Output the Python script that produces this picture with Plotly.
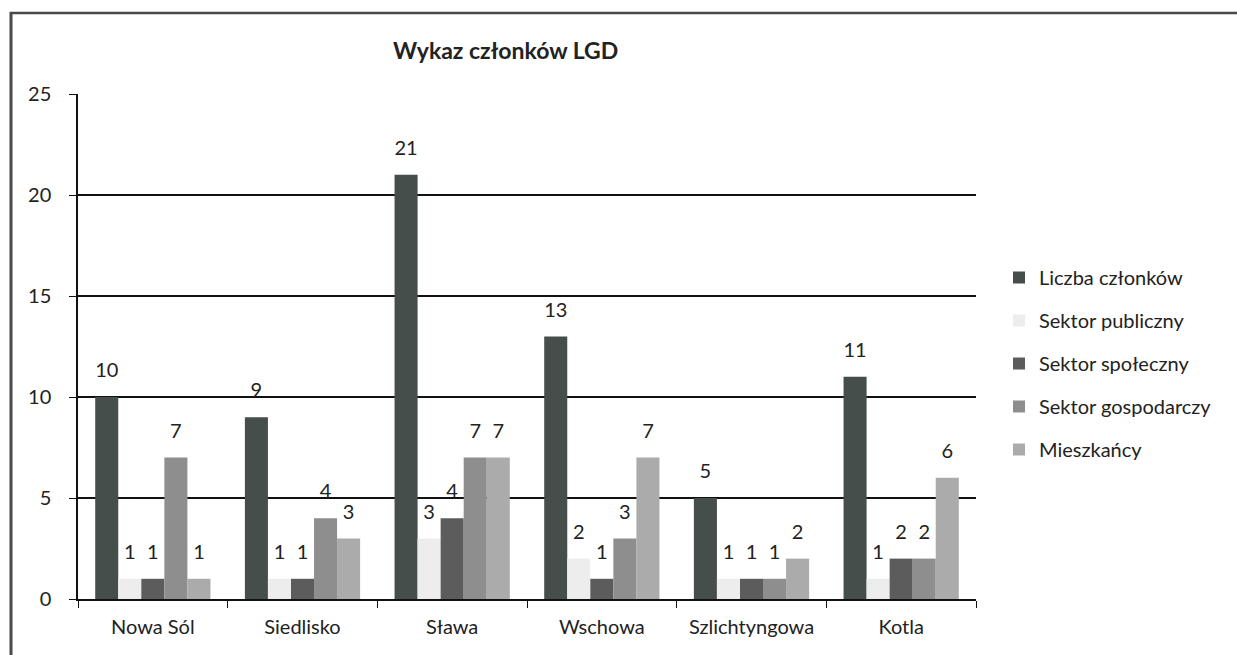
import plotly.graph_objects as go

categories = ["Nowa Sól", "Siedlisko", "Sława", "Wschowa", "Szlichtyngowa", "Kotla"]
series_names = ["Liczba członków", "Sektor publiczny", "Sektor społeczny",
                "Sektor gospodarczy", "Mieszkańcy"]
liczba_czlonkow = [10, 9, 21, 13, 5, 11]
sektor_publiczny = [1, 1, 3, 2, 1, 1]
sektor_spoleczny = [1, 1, 4, 1, 1, 2]
sektor_gospodarczy = [7, 4, 7, 3, 1, 2]
mieszkancy = [1, 3, 7, 7, 2, 6]
y_ticks = [0, 5, 10, 15, 20, 25]
title_text = "Wykaz członków LGD"

series_values = [liczba_czlonkow, sektor_publiczny, sektor_spoleczny,
                 sektor_gospodarczy, mieszkancy]
colors = ["#464e4b", "#ededed", "#5c5c5c", "#8e8e8e", "#ababab"]

FONT = "Lato"
W, H = 1237, 655
L, R, T, B = 78, 1237 - 976, 94, 655 - 599
PW, PH = W - L - R, H - T - B
GAP = 0.23


def px_x(p):
    return (p - L) / PW


def px_y(p):
    return (H - B - p) / PH


fig = go.Figure()
for i, (name, vals, col) in enumerate(zip(series_names, series_values, colors)):
    fig.add_trace(go.Bar(
        name=name,
        x=categories,
        y=vals,
        marker=dict(color=col, line=dict(width=0)),
        legendgroup=name,
        offsetgroup=str(i),
    ))
for i, (name, vals) in enumerate(zip(series_names, series_values)):
    fig.add_trace(go.Scatter(
        x=categories,
        y=vals,
        mode="markers+text",
        text=[str(v) for v in vals],
        textposition="top center",
        textfont=dict(family=FONT, size=20, color="#222222"),
        marker=dict(size=22, color="rgba(0,0,0,0)"),
        orientation="v",
        offsetgroup=str(i),
        showlegend=False,
        hoverinfo="skip",
        cliponaxis=False,
    ))

fig.update_layout(
    width=W, height=H,
    margin=dict(l=L, r=R, t=T, b=B),
    paper_bgcolor="white",
    plot_bgcolor="white",
    barmode="group",
    bargap=GAP,
    bargroupgap=0,
    scattermode="group",
    scattergap=GAP,
    font=dict(family=FONT, size=20, color="#222222"),
    showlegend=True,
    legend=dict(
        x=px_x(999), xanchor="left",
        y=px_y(258), yanchor="top",
        font=dict(family=FONT, size=20, color="#222222"),
        traceorder="grouped",
        tracegroupgap=14,
        bgcolor="rgba(0,0,0,0)",
        itemwidth=30,
    ),
    xaxis=dict(
        type="category",
        showline=True, linecolor="#111111", linewidth=1.5,
        ticks="outside", tickson="boundaries", ticklen=7, tickcolor="#111111",
        showgrid=False,
        ticklabelstandoff=9,
        tickfont=dict(family=FONT, size=20, color="#222222"),
    ),
    yaxis=dict(
        range=[0, 25],
        tickvals=y_ticks,
        showline=True, linecolor="#111111", linewidth=1.5,
        ticks="outside", ticklen=7, tickcolor="#111111",
        showgrid=True, gridcolor="#111111", gridwidth=1.5,
        zeroline=False,
        ticklabelstandoff=14,
        tickfont=dict(family=FONT, size=20, color="#222222"),
    ),
    annotations=[dict(
        text="<b>" + title_text + "</b>",
        xref="paper", yref="paper",
        x=px_x(505), y=px_y(50),
        xanchor="center", yanchor="middle",
        showarrow=False,
        font=dict(family=FONT, size=23, color="#222222"),
    )],
    shapes=[
        dict(type="line", xref="paper", yref="paper",
             x0=px_x(11), x1=px_x(11), y0=px_y(12), y1=px_y(655),
             line=dict(color="#4a4a4a", width=3)),
        dict(type="line", xref="paper", yref="paper",
             x0=px_x(10), x1=px_x(1237), y0=px_y(13), y1=px_y(13),
             line=dict(color="#4a4a4a", width=2.5)),
    ],
)

fig.write_html("out.html", config={"displayModeBar": False},
               post_script="document.body.style.margin='0';")
